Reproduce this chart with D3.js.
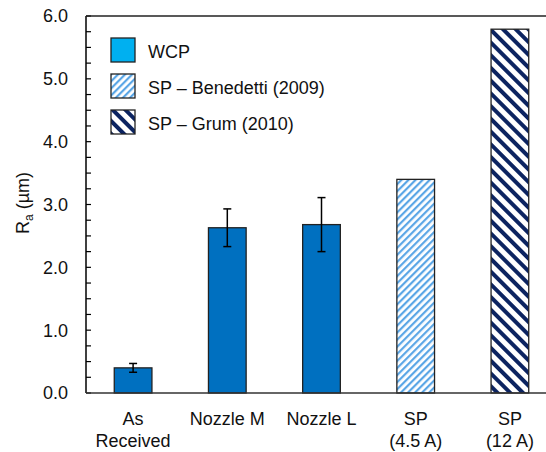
<!DOCTYPE html>
<html>
<head>
<meta charset="utf-8">
<script src="https://cdn.jsdelivr.net/npm/d3@7"></script>
<style>
  html, body { margin: 0; padding: 0; background: #fff; }
  svg { display: block; font-family: "Liberation Sans", Arial, sans-serif; }
</style>
</head>
<body>
<svg id="chart" width="546" height="452"></svg>
<script>
// Surface roughness Ra by treatment
const categories = ["As Received", "Nozzle M", "Nozzle L", "SP (4.5 A)", "SP (12 A)"];
const labelLines = [["As", "Received"], ["Nozzle M"], ["Nozzle L"], ["SP", "(4.5 A)"], ["SP", "(12 A)"]];
const values = [0.40, 2.63, 2.68, 3.40, 5.79];
const errors = [0.07, 0.30, 0.43, null, null];
const groups = ["wcp", "wcp", "wcp", "benedetti", "grum"];
const legendItems = ["WCP", "SP \u2013 Benedetti (2009)", "SP \u2013 Grum (2010)"];
const legendKeys = ["wcp-legend", "benedetti", "grum"];
const yTicks = [0, 1, 2, 3, 4, 5, 6];

const svg = d3.select("#chart");
const margin = { left: 86, top: 16, bottom: 393 };
const plotRight = 557;
const fontSize = 18;

const defs = svg.append("defs");
// fine light-blue stripes
const pB = defs.append("pattern").attr("id", "benedetti")
  .attr("patternUnits", "userSpaceOnUse").attr("width", 5).attr("height", 5)
  .attr("patternTransform", "rotate(45)");
pB.append("rect").attr("width", 5).attr("height", 5).attr("fill", "#fff");
pB.append("rect").attr("width", 2.2).attr("height", 5).attr("fill", "#5AA6E6");
// wide navy stripes
const pG = defs.append("pattern").attr("id", "grum")
  .attr("patternUnits", "userSpaceOnUse").attr("width", 9).attr("height", 9)
  .attr("patternTransform", "rotate(-45)");
pG.append("rect").attr("width", 9).attr("height", 9).attr("fill", "#fff");
pG.append("rect").attr("width", 4).attr("height", 9).attr("fill", "#0C2461");

const fills = { "wcp": "#0070C0", "wcp-legend": "#00B0F0", "benedetti": "url(#benedetti)", "grum": "url(#grum)" };

const x = d3.scaleBand().domain(categories).range([margin.left, plotRight]).paddingInner(0.6).paddingOuter(0.3);
const y = d3.scaleLinear().domain([0, 6]).range([margin.bottom, margin.top]);

// bars
svg.append("g").selectAll("rect").data(categories).join("rect")
  .attr("x", d => x(d))
  .attr("y", (d, i) => y(values[i]))
  .attr("width", x.bandwidth())
  .attr("height", (d, i) => y(0) - y(values[i]))
  .attr("fill", (d, i) => fills[groups[i]])
  .attr("stroke", "#222")
  .attr("stroke-width", 1.3);

// error bars
const eb = svg.append("g").attr("stroke", "#000").attr("stroke-width", 1.5);
categories.forEach((c, i) => {
  if (errors[i] == null) return;
  const cx = x(c) + x.bandwidth() / 2;
  const y1 = y(values[i] + errors[i]), y2 = y(values[i] - errors[i]);
  eb.append("line").attr("x1", cx).attr("x2", cx).attr("y1", y1).attr("y2", y2);
  eb.append("line").attr("x1", cx - 4).attr("x2", cx + 4).attr("y1", y1).attr("y2", y1);
  eb.append("line").attr("x1", cx - 4).attr("x2", cx + 4).attr("y1", y2).attr("y2", y2);
});

// y axis with inward minor ticks
const yAxis = svg.append("g").attr("transform", `translate(${margin.left},0)`);
const minor = d3.range(0, 6.001, 0.25);
yAxis.selectAll("line.minor").data(minor).join("line")
  .attr("x1", 0).attr("x2", 5)
  .attr("y1", d => y(d)).attr("y2", d => y(d))
  .attr("stroke", "#000").attr("stroke-width", 1.2);
yAxis.append("line").attr("x1", 0).attr("x2", 0).attr("y1", y(6)).attr("y2", y(0))
  .attr("stroke", "#000").attr("stroke-width", 1.5);
yAxis.selectAll("text").data(yTicks).join("text")
  .attr("x", -18).attr("y", d => y(d)).attr("dy", "0.36em")
  .attr("text-anchor", "end").attr("font-size", fontSize).attr("fill", "#111")
  .text(d => d.toFixed(1));

// top border and baseline
svg.append("line").attr("x1", margin.left).attr("x2", 546).attr("y1", y(6)).attr("y2", y(6))
  .attr("stroke", "#222").attr("stroke-width", 1.5);
svg.append("line").attr("x1", margin.left).attr("x2", 546).attr("y1", y(0)).attr("y2", y(0))
  .attr("stroke", "#333").attr("stroke-width", 1.5);

// category labels
const xl = svg.append("g").attr("font-size", fontSize).attr("fill", "#111").attr("text-anchor", "middle");
categories.forEach((c, i) => {
  const t = xl.append("text").attr("x", x(c) + x.bandwidth() / 2).attr("y", 425);
  labelLines[i].forEach((ln, k) => {
    t.append("tspan").attr("x", x(c) + x.bandwidth() / 2).attr("dy", k === 0 ? 0 : 22).text(ln);
  });
});

// y axis title
const yt = svg.append("text").attr("transform", "translate(29,203) rotate(-90)")
  .attr("text-anchor", "middle").attr("font-size", fontSize).attr("fill", "#111");
yt.append("tspan").text("R");
yt.append("tspan").attr("font-size", 12).attr("dy", 4).text("a");
yt.append("tspan").attr("dy", -4).text(" (\u00b5m)");

// legend
const lg = svg.append("g");
legendItems.forEach((name, i) => {
  const ly = 38 + i * 36;
  lg.append("rect").attr("x", 111).attr("y", ly).attr("width", 24).attr("height", 24)
    .attr("fill", fills[legendKeys[i]]).attr("stroke", "#222").attr("stroke-width", 1.3);
  lg.append("text").attr("x", 148).attr("y", ly + 14).attr("dy", "0.36em")
    .attr("font-size", fontSize).attr("fill", "#111").text(name);
});
</script>
</body>
</html>
